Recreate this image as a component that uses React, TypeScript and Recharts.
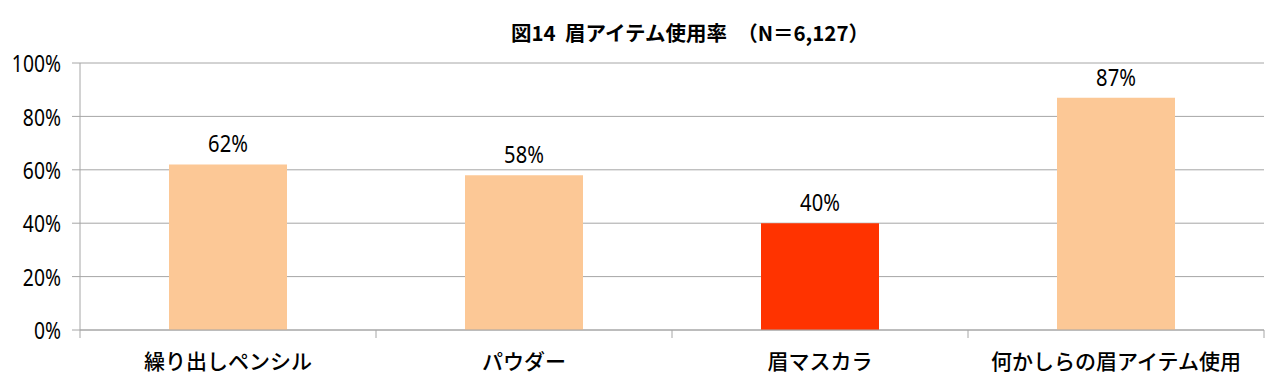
import React from 'react';
import { BarChart, Bar, XAxis, YAxis, CartesianGrid, Cell, LabelList } from 'recharts';

const categories = ['繰り出しペンシル', 'パウダー', '眉マスカラ', '何かしらの眉アイテム使用'];
const values = [62, 58, 40, 87];
const colors = ['#FCC896', '#FCC896', '#FF3300', '#FCC896'];
const yTicks = [0, 20, 40, 60, 80, 100];
const title = '図14  眉アイテム使用率　（N＝6,127）';

const data = categories.map((name, i) => ({ name, value: values[i] }));

const numFont = '"Noto Sans", "DejaVu Sans", sans-serif';
const jpFont = '"Noto Sans CJK JP", sans-serif';
const axisColor = '#a6a6a6';

const YTick = (props: any) => {
  const { x, y, payload } = props;
  return (
    <g transform={`translate(${x},${y}) scale(0.84,1)`}>
      <text x={0} y={0} textAnchor="end" dominantBaseline="central" fontFamily={numFont} fontSize={23} fill="#000">
        {`${payload.value}%`}
      </text>
    </g>
  );
};

const XTick = (props: any) => {
  const { x, y, payload, index, width } = props;
  const half = width / (2 * categories.length);
  const isLast = index === categories.length - 1;
  return (
    <g>
      <line x1={x - half} x2={x - half} y1={y} y2={y + 8} stroke={axisColor} />
      {isLast && <line x1={x + half} x2={x + half} y1={y} y2={y + 8} stroke={axisColor} />}
      <text
        x={x}
        y={y + 30}
        textAnchor="middle"
        dominantBaseline="central"
        fontFamily={jpFont}
        fontSize={21}
        fontWeight={500}
        fill="#000"
      >
        {payload.value}
      </text>
    </g>
  );
};

const ValueLabel = (props: any) => {
  const { x, y, width, value } = props;
  const cx = x + width / 2;
  return (
    <g transform={`translate(${cx},${y - 12}) scale(0.84,1)`}>
      <text x={0} y={0} textAnchor="middle" fontFamily={numFont} fontSize={24} fill="#000">
        {`${value}%`}
      </text>
    </g>
  );
};

export default function App() {
  return (
    <div style={{ position: 'absolute', left: 0, top: 0, width: 1280, height: 384, background: '#fff' }}>
      <div
        style={{
          position: 'absolute',
          left: 0,
          width: 1380,
          top: 20,
          textAlign: 'center',
          fontFamily: jpFont,
          fontWeight: 700,
          fontSize: 20.5,
          lineHeight: '24px',
          color: '#000',
          whiteSpace: 'pre',
        }}
      >
        {title}
      </div>
      <BarChart
        width={1280}
        height={384}
        data={data}
        margin={{ top: 63, right: 16, bottom: 0, left: 0 }}
        barCategoryGap={0}
      >
        <CartesianGrid vertical={false} stroke={axisColor} strokeWidth={1} />
        <XAxis
          dataKey="name"
          tickLine={false}
          axisLine={{ stroke: axisColor }}
          height={54}
          interval={0}
          tickSize={0}
          tickMargin={0}
          tick={<XTick />}
        />
        <YAxis
          width={80}
          domain={[0, 100]}
          ticks={yTicks}
          axisLine={{ stroke: axisColor }}
          tickLine={{ stroke: axisColor }}
          tickSize={8}
          tickMargin={11}
          tick={<YTick />}
        />
        <Bar dataKey="value" barSize={118} isAnimationActive={false}>
          {data.map((d, i) => (
            <Cell key={d.name} fill={colors[i]} />
          ))}
          <LabelList dataKey="value" content={<ValueLabel />} />
        </Bar>
      </BarChart>
    </div>
  );
}
